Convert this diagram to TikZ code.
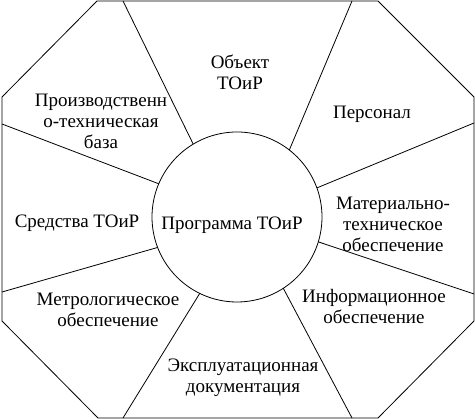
\documentclass[tikz,border=0pt]{standalone}
\usepackage{fontspec}
\setmainfont{Liberation Serif}
\begin{document}
\begin{tikzpicture}[x=1pt,y=1pt,line width=0.8pt,
  lbl/.style={align=center,inner sep=0pt,font=\fontsize{19}{21}\selectfont},
  hub/.style={circle,draw,minimum size=170pt,inner sep=0pt,outer sep=0pt}]
\useasboundingbox (0,0) rectangle (475,419);
% octagon
\coordinate (o1) at (97,418);
\coordinate (o2) at (378,418);
\coordinate (o3) at (474,322);
\coordinate (o4) at (474,98);
\coordinate (o5) at (378,1);
\coordinate (o6) at (98,1);
\coordinate (o7) at (2,98);
\coordinate (o8) at (2,322);
\draw (o1) -- (o2) -- (o3) -- (o4) -- (o5) -- (o6) -- (o7) -- (o8) -- cycle;
% hub
\node[hub] (c) at (237,202) {};
% spoke ends
\coordinate (e1) at (123,418);
\coordinate (e2) at (352,418);
\coordinate (e3) at (474,296);
\coordinate (e4) at (474,125);
\coordinate (e5) at (352,1);
\coordinate (e6) at (123,1);
\coordinate (e7) at (2,127);
\coordinate (e8) at (2,295);
\draw (c.121) -- (e1);
\draw (c.52) -- (e2);
\draw (c.20) -- (e3);
\draw (c.-17) -- (e4);
\draw (c.-57) -- (e5);
\draw (c.-116) -- (e6);
\draw (c.-159) -- (e7);
\draw (c.157) -- (e8);
% labels
\node[lbl] (tprog) at (232,194) {Программа ТОиР};
\node[lbl] (tsred) at (77,196) {Средства ТОиР};
\node[lbl] (tobj) at (240,347) {Объект\\ТОиР};
\node[lbl] (tpers) at (372,305) {Персонал};
\node[lbl] (tmat) at (393,195) {Материально-\\техническое\\обеспечение};
\node[lbl] (tinf) at (374,112) {Информационное\\обеспечение};
\node[lbl] (texp) at (243,41) {Эксплуатационная\\документация};
\node[lbl] (tmet) at (108,109) {Метрологическое\\обеспечение};
\node[lbl] (tpro) at (101,298) {Производственн\\о-техническая\\база};
\end{tikzpicture}
\end{document}
